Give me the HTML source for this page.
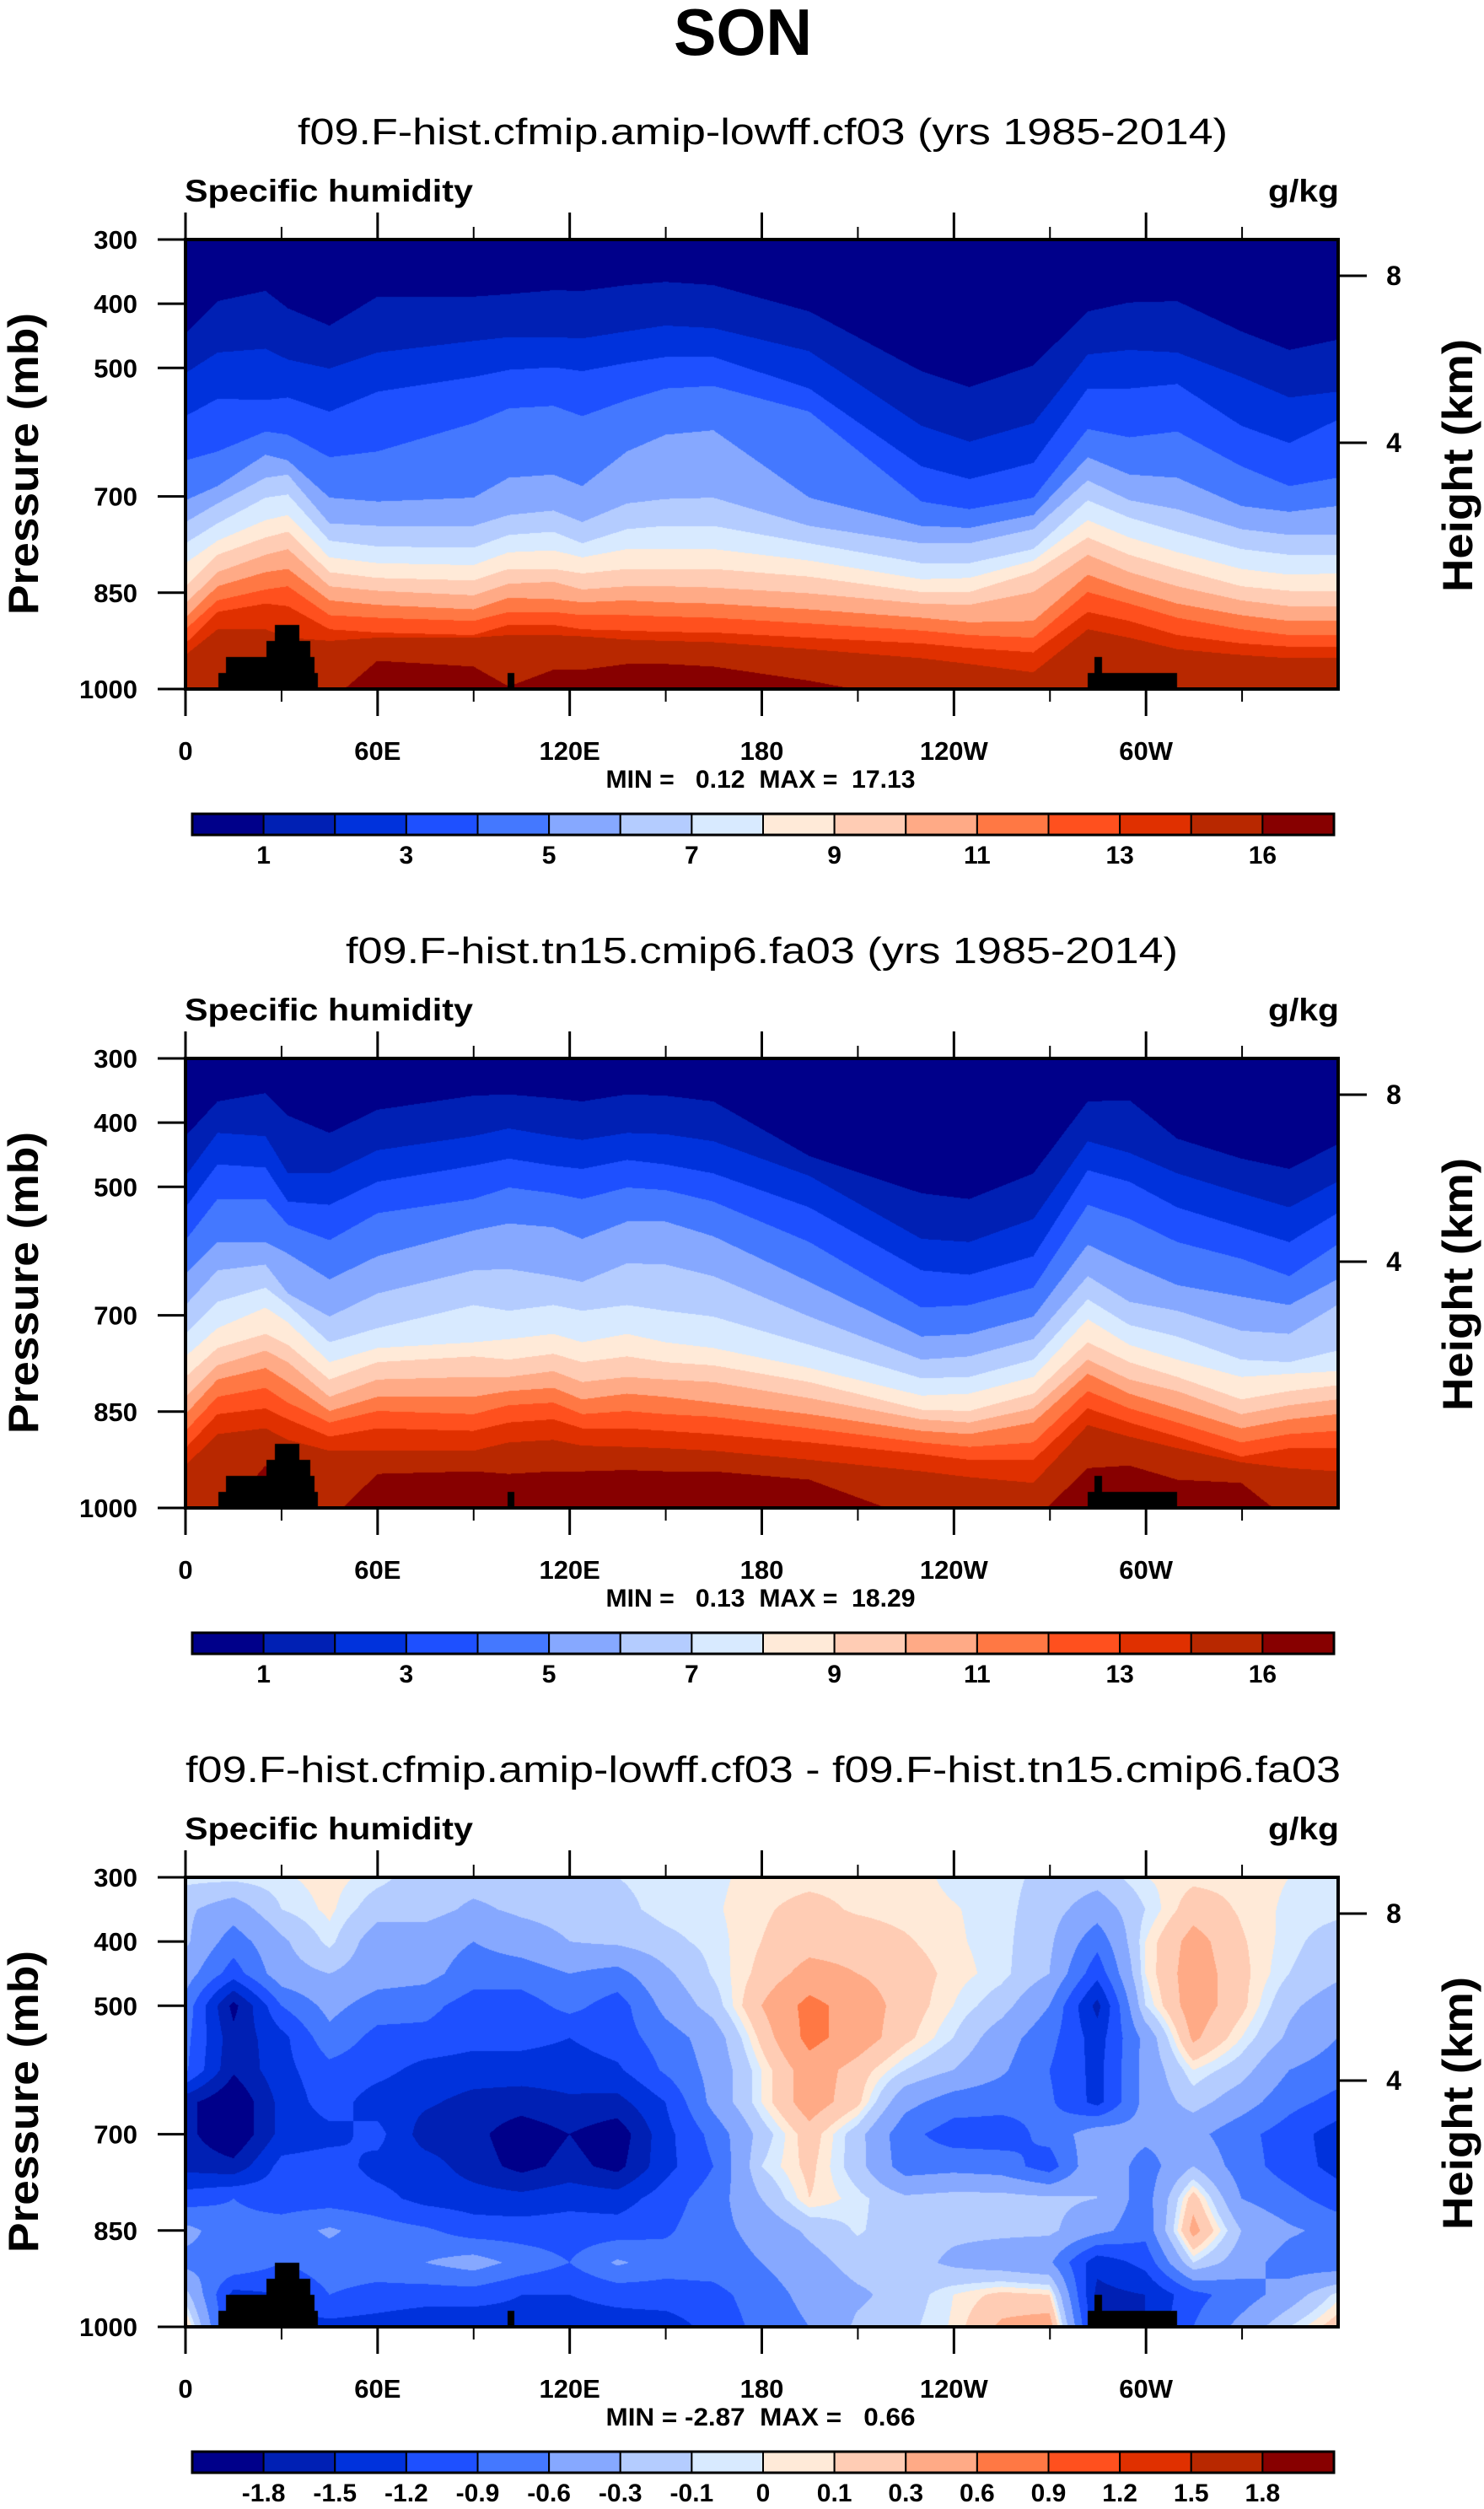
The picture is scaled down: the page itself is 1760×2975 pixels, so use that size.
<!DOCTYPE html>
<html><head><meta charset="utf-8">
<style>
html,body{margin:0;padding:0;background:#fff;}
#root{position:relative;width:1760px;height:2975px;overflow:hidden;background:#fff;}
canvas{position:absolute;}
svg{position:absolute;left:0;top:0;}
text{font-family:"Liberation Sans",Arial,sans-serif;fill:#000;}
.pre{white-space:pre;}
</style></head>
<body>
<div id="root">
<canvas id="c1" width="1366" height="533" style="left:220px;top:284px"></canvas>
<canvas id="c2" width="1366" height="533" style="left:220px;top:1255px"></canvas>
<canvas id="c3" width="1366" height="533" style="left:220px;top:2226px"></canvas>
<svg id="ov" width="1760" height="2975" xmlns="http://www.w3.org/2000/svg">
<text x="881" y="65" font-size="78" font-weight="bold" text-anchor="middle" textLength="164" lengthAdjust="spacingAndGlyphs">SON</text>
</svg>
</div>
<script>
// ---------- data ----------
const qLevels = [1,2,3,4,5,6,7,8,9,10,11,12,13,14,16];
const qLabels = ["1","3","5","7","9","11","13","16"];
const diffLevels = [-1.8,-1.5,-1.2,-0.9,-0.6,-0.3,-0.1,0,0.1,0.3,0.6,0.9,1.2,1.5,1.8];
const diffLabels = ["-1.8","-1.5","-1.2","-0.9","-0.6","-0.3","-0.1","0","0.1","0.3","0.6","0.9","1.2","1.5","1.8"];
const xTickLons = [0,60,120,180,240,300];
const xTickLabels = ["0","60E","120E","180","120W","60W"];
const pTicks = [300,400,500,700,850,1000];
const hTickLabels = ["8","4"];
const isoLons = [0,10,25,32,45,60,90,101,115,124,138,150,165,195,230,245,265,282,295,310,330,345,360];
// panel 1: pressure (mb) of each q isoline along isoLons
const iso1_cf03 = [
[447,396,380,407,434,389,389,385,379,380,371,366,371,412,505,530,496,412,398,396,443,472,456],
[508,476,470,487,501,476,458,452,452,454,443,434,438,474,590,615,586,479,472,476,514,546,537],
[575,548,550,546,568,537,514,503,499,505,492,483,483,532,653,673,648,532,532,525,590,617,581],
[644,630,599,604,639,630,586,563,559,575,550,532,528,568,708,720,702,595,608,599,653,684,671],
[706,684,635,644,702,708,702,671,666,684,630,604,597,702,746,749,729,639,666,671,715,724,715],
[740,711,671,666,742,746,746,729,722,740,711,704,702,746,773,773,751,675,706,720,751,760,760],
[773,742,702,697,769,778,780,760,755,773,751,746,746,773,804,804,782,706,733,755,782,791,791],
[804,769,737,729,795,804,807,787,784,795,782,782,782,800,829,827,800,737,764,787,813,822,820],
[840,791,764,755,818,827,831,813,813,820,813,813,813,825,849,849,818,764,791,813,840,847,847],
[867,818,791,782,840,847,854,836,833,845,840,840,842,851,867,869,849,791,818,840,862,871,871],
[889,840,818,813,862,869,876,858,860,865,862,865,867,876,889,896,894,822,845,867,885,894,894],
[907,862,845,840,885,889,894,880,880,885,885,887,889,898,909,916,920,849,867,889,907,916,916],
[929,880,867,871,907,912,916,900,900,907,909,911,912,920,929,936,943,880,894,916,929,934,934],
[947,907,907,920,925,920,920,916,916,918,923,925,927,938,952,961,974,907,920,938,947,952,952],
[1020,1020,1020,1020,1020,956,965,996,970,970,961,961,965,987,1020,1020,1020,1020,1020,1020,1020,1020,1020]
];
// panel 2
const iso2_fa03 = [
[421,367,354,389,416,380,358,356,362,367,356,358,367,452,510,519,479,367,365,425,456,472,434],
[483,416,421,479,479,443,421,409,421,427,416,418,429,483,581,586,550,429,447,479,510,532,492],
[532,465,470,523,528,492,467,456,467,472,458,465,479,532,630,637,608,474,492,532,563,586,541],
[583,519,519,559,583,541,519,501,510,519,501,505,523,586,688,684,657,528,550,586,612,639,590],
[635,586,586,604,644,608,568,557,563,581,554,554,577,648,733,729,702,590,621,653,671,684,644],
[684,630,621,666,702,666,630,628,639,648,619,621,639,702,769,764,737,639,679,693,724,729,684],
[729,679,657,684,742,720,684,693,684,693,684,693,702,746,798,796,769,675,715,733,769,773,755],
[764,720,688,711,773,751,742,737,729,742,729,742,751,782,825,822,796,706,746,769,796,791,787],
[796,751,729,746,800,773,764,769,760,773,764,773,778,804,847,849,822,742,773,796,831,818,809],
[827,778,755,773,827,800,796,796,787,804,796,800,804,829,862,867,845,769,800,818,854,840,831],
[854,800,782,804,849,827,827,818,813,831,822,827,836,854,880,885,867,791,822,845,876,862,854],
[880,827,813,836,867,849,854,840,836,854,849,854,858,876,898,905,898,818,845,867,898,885,880],
[907,854,845,862,889,876,880,867,862,876,876,880,885,898,916,925,925,845,867,889,920,907,907],
[934,885,876,894,911,911,911,898,894,903,905,907,911,925,943,952,961,871,889,907,929,938,943],
[1020,1020,934,1020,1020,947,943,947,943,943,941,943,943,956,1020,1020,1020,938,934,956,961,1020,1020]
];
// panel 3: difference grid (g/kg), rows = diffPres, cols = diffLons
const diffLons = [0,15,30,45,60,75,90,105,120,135,150,165,180,195,210,225,240,255,270,285,300,315,330,345,360];
const diffPres = [300,350,400,450,500,550,600,650,700,750,800,850,900,950,1000];
const diffVals = [
[-0.05,-0.05,-0.02,0.05,-0.05,-0.2,-0.2,-0.2,-0.15,-0.1,-0.05,-0.03,0.05,0.06,0.06,0.05,-0.03,-0.05,-0.15,-0.2,0.0,0.06,0.06,0.0,-0.05],
[-0.25,-0.45,-0.1,0.03,-0.2,-0.2,-0.35,-0.25,-0.2,-0.15,-0.05,-0.02,0.08,0.15,0.08,0.05,0.01,-0.05,-0.2,-0.45,-0.1,0.2,0.08,-0.03,-0.05],
[-0.25,-0.75,-0.35,-0.05,-0.45,-0.45,-0.6,-0.45,-0.3,-0.25,-0.15,-0.05,0.1,0.2,0.2,0.12,0.02,-0.05,-0.25,-0.8,0.0,0.4,0.12,-0.05,-0.2],
[-0.45,-1.05,-0.4,-0.3,-0.45,-0.5,-0.75,-0.75,-0.6,-0.7,-0.35,-0.08,0.15,0.4,0.3,0.2,0.05,-0.05,-0.3,-1.1,0.0,0.45,0.15,-0.1,-0.25],
[-0.7,-1.9,-0.9,-0.5,-0.75,-0.8,-1.05,-1.05,-0.8,-1.05,-0.5,-0.2,0.3,0.7,0.45,0.2,0.0,-0.2,-0.6,-1.6,-0.1,0.45,0.15,-0.25,-0.45],
[-0.8,-1.7,-1.3,-0.7,-1.0,-1.0,-1.1,-1.1,-1.2,-1.05,-0.75,-0.45,0.15,0.7,0.45,0.15,-0.1,-0.45,-0.8,-1.35,-0.5,0.35,0.0,-0.35,-0.6],
[-0.85,-1.75,-1.3,-1.0,-1.1,-1.3,-1.35,-1.35,-1.35,-1.25,-0.85,-0.5,0.0,0.45,0.2,-0.1,-0.3,-0.55,-0.9,-1.3,-0.5,0.0,-0.2,-0.6,-0.75],
[-1.7,-2.1,-1.4,-1.05,-1.35,-1.45,-1.6,-1.65,-1.55,-1.6,-1.2,-0.5,0.0,0.45,0.15,-0.5,-0.75,-0.8,-0.85,-1.3,-0.5,-0.2,-0.45,-0.8,-1.0],
[-1.7,-2.1,-1.4,-1.3,-1.1,-1.65,-1.7,-2.0,-1.8,-2.0,-1.3,-0.8,-0.2,0.2,-0.2,-0.8,-1.05,-1.05,-0.8,-0.4,-0.5,-0.5,-0.8,-1.05,-1.35],
[-1.6,-1.7,-1.1,-1.05,-1.3,-1.35,-1.65,-1.9,-1.7,-1.9,-1.3,-0.9,-0.1,0.15,-0.2,-0.75,-0.7,-0.75,-1.05,-0.3,-0.75,-0.3,-0.75,-1.05,-1.3],
[-1.05,-0.9,-1.05,-1.05,-1.1,-1.3,-1.35,-1.4,-1.3,-1.35,-1.05,-0.75,-0.3,0.1,-0.05,-0.25,-0.2,-0.2,-0.25,-0.3,-0.75,0.2,-0.6,-0.8,-1.05],
[-0.5,-0.8,-0.75,-0.55,-0.75,-0.85,-1.05,-1.05,-1.05,-1.05,-0.95,-0.7,-0.5,-0.25,-0.08,-0.2,-0.25,-0.25,-0.25,-0.5,-0.8,0.4,-0.3,-0.55,-0.7],
[-0.7,-0.65,-0.9,-0.75,-0.75,-0.6,-0.45,-0.7,-0.9,-0.55,-0.75,-0.75,-0.6,-0.4,-0.2,-0.2,-0.35,-0.45,-0.55,-1.4,-1.1,-0.1,-0.45,-0.75,-0.8],
[-0.2,-1.3,-1.2,-0.9,-1.0,-1.05,-1.05,-1.2,-1.2,-1.1,-1.05,-1.0,-0.75,-0.5,-0.35,-0.2,0.0,0.15,0.1,-1.6,-1.5,-1.0,-0.75,-0.45,-0.05],
[0.2,-1.3,-1.3,-1.3,-1.35,-1.45,-1.45,-1.35,-1.35,-1.35,-1.35,-1.1,-0.8,-0.6,-0.25,-0.15,0.02,0.35,0.45,-1.5,-1.5,-0.9,-0.5,-0.1,0.2]
];
// topography mask [lonStart, lonEnd, surface pressure mb]
const topoLon0 = [10.3,12.6,25.3,28,100.6,282,284];
const topoLon1 = [41.3,40.2,39,35.6,102.9,310,286.5];
const topoPs   = [975,950,925,900,975,975,950];
const colors = ['#00008A','#0020B4','#0032DC','#1E50FF','#4478FF','#86A8FF','#B4CCFF','#D8EAFF','#FFEAD8','#FFCCB4','#FFAA86','#FF7844','#FF501E','#E03000','#B82800','#870000'];

// ---------- drawing ----------
const W=1366,H=533,P0=300,P1=1000;
function hex(c){return [parseInt(c.substr(1,2),16),parseInt(c.substr(3,2),16),parseInt(c.substr(5,2),16)];}
const rgb=colors.map(hex);
function interp1(xs,ys,x){
  let i=0; while(i<xs.length-2 && x>xs[i+1]) i++;
  const t=(x-xs[i])/(xs[i+1]-xs[i]); return ys[i]+(ys[i+1]-ys[i])*t;
}
function isTopo(lon,p){
  for(let k=0;k<topoPs.length;k++) if(lon>=topoLon0[k]&&lon<=topoLon1[k]&&p>=topoPs[k]) return true;
  return false;
}
function put(img,x,y,c){const o=(y*W+x)*4;img.data[o]=c[0];img.data[o+1]=c[1];img.data[o+2]=c[2];img.data[o+3]=255;}
function drawIso(id,isos){
  const ctx=document.getElementById(id).getContext('2d');
  const img=ctx.createImageData(W,H);
  for(let x=0;x<W;x++){
    const lon=(x+0.5)/W*360;
    const ps=isos.map(a=>interp1(isoLons,a,lon));
    for(let y=0;y<H;y++){
      const p=P0+(y+0.5)/H*(P1-P0);
      let k=0; for(const q of ps) if(q<p) k++;
      put(img,x,y,isTopo(lon,p)?[0,0,0]:rgb[k]);
    }
  }
  ctx.putImageData(img,0,0);
}
function drawDiff(id){
  const ctx=document.getElementById(id).getContext('2d');
  const img=ctx.createImageData(W,H);
  for(let x=0;x<W;x++){
    const lon=(x+0.5)/W*360;
    let i=Math.min(Math.floor(lon/15),diffLons.length-2);
    const tx=(lon-diffLons[i])/(diffLons[i+1]-diffLons[i]);
    for(let y=0;y<H;y++){
      const p=P0+(y+0.5)/H*(P1-P0);
      let j=Math.min(Math.floor((p-300)/50),diffPres.length-2);
      const ty=(p-diffPres[j])/(diffPres[j+1]-diffPres[j]);
      const v=(diffVals[j][i]*(1-tx)+diffVals[j][i+1]*tx)*(1-ty)+(diffVals[j+1][i]*(1-tx)+diffVals[j+1][i+1]*tx)*ty;
      let k=0; for(const l of diffLevels) if(v>=l) k++;
      put(img,x,y,isTopo(lon,p)?[0,0,0]:rgb[k]);
    }
  }
  ctx.putImageData(img,0,0);
}
drawIso('c1',iso1_cf03);
drawIso('c2',iso2_fa03);
drawDiff('c3');

// ---------- axes / text ----------
const NS='http://www.w3.org/2000/svg';
const svg=document.getElementById('ov');
function mk(tag,attrs,txt){const e=document.createElementNS(NS,tag);for(const k in attrs)e.setAttribute(k,attrs[k]);if(txt!==undefined)e.textContent=txt;svg.appendChild(e);return e;}
const L=220,R=1587;
const xOf=lon=>L+lon/360*(R-L);
const panels=[
 {top:284,sub:'f09.F-hist.cfmip.amip-lowff.cf03 (yrs 1985-2014)',sx:353,sw:1103,mm:'MIN =   0.12  MAX =  17.13',labels:qLabels,step:2,n:'cf03'},
 {top:1255,sub:'f09.F-hist.tn15.cmip6.fa03 (yrs 1985-2014)',sx:410,sw:987,mm:'MIN =   0.13  MAX =  18.29',labels:qLabels,step:2,n:'fa03'},
 {top:2226,sub:'f09.F-hist.cfmip.amip-lowff.cf03 - f09.F-hist.tn15.cmip6.fa03',sx:220,sw:1370,mm:'MIN = -2.87  MAX =   0.66',labels:diffLabels,step:1,n:'diff'}
];
panels.forEach(pn=>{
  const T=pn.top,B=T+533;
  const yOf=p=>T+(p-P0)/(P1-P0)*(B-T);
  let e;
  e=mk('text',{x:pn.sx,y:T-113,'font-size':44,textLength:pn.sw,lengthAdjust:'spacingAndGlyphs'},pn.sub);
  
  
  e=mk('text',{x:219,y:T-45,'font-size':37,'font-weight':'bold',textLength:342,lengthAdjust:'spacingAndGlyphs'},'Specific humidity');
  
  
  e=mk('text',{x:R+1,y:T-45,'font-size':37,'font-weight':'bold','text-anchor':'end',textLength:84,lengthAdjust:'spacingAndGlyphs'},'g/kg');
  
  
  e=mk('rect',{x:L,y:T,width:R-L,height:B-T,fill:'none',stroke:'#000','stroke-width':4});
  
  
  for(let lon=0;lon<=330;lon+=30){
    const major=lon%60===0, len=major?32:15, x=xOf(lon);
    e=mk('line',{x1:x,y1:T,x2:x,y2:T-len,stroke:'#000','stroke-width':major?3:2});
    
    
    e=mk('line',{x1:x,y1:B,x2:x,y2:B+len,stroke:'#000','stroke-width':major?3:2});
    
    
  }
  xTickLons.forEach((lon,i)=>{
    e=mk('text',{x:xOf(lon),y:B+84,'font-size':31,'font-weight':'bold','text-anchor':'middle'},xTickLabels[i]);
    
    
  });
  pTicks.forEach(p=>{
    const y=yOf(p);
    e=mk('line',{x1:L,y1:y,x2:L-33,y2:y,stroke:'#000','stroke-width':3});
    
    
    e=mk('text',{x:163,y:y+11,'font-size':31,'font-weight':'bold','text-anchor':'end'},String(p));
    
    
  });
  [T+43,T+241].forEach((y,i)=>{
    e=mk('line',{x1:R,y1:y,x2:R+34,y2:y,stroke:'#000','stroke-width':3});
    
    
    e=mk('text',{x:1653,y:y+11,'font-size':32,'font-weight':'bold','text-anchor':'middle'},hTickLabels[i]);
    
    
  });
  e=mk('text',{x:0,y:0,'font-size':50,'font-weight':'bold','text-anchor':'middle',transform:'translate(45,'+(T+266)+') rotate(-90)',textLength:358,lengthAdjust:'spacingAndGlyphs'},'Pressure (mb)');
  
  
  e=mk('text',{x:0,y:0,'font-size':50,'font-weight':'bold','text-anchor':'middle',transform:'translate(1746,'+(T+268)+') rotate(-90)',textLength:300,lengthAdjust:'spacingAndGlyphs'},'Height (km)');
  
  
  e=mk('text',{x:902,y:B+117,'font-size':30,'font-weight':'bold','text-anchor':'middle','class':'pre',textLength:367,lengthAdjust:'spacingAndGlyphs'},pn.mm);
  
  
  // colorbar
  const cbL=228,cbR=1582,cbT=T+681,cbH=25,bw=(cbR-cbL)/16;
  colors.forEach((c,i)=>{
    e=mk('rect',{x:cbL+i*bw,y:cbT,width:bw,height:cbH,fill:c,stroke:'#000','stroke-width':2});
    
    
  });
  e=mk('rect',{x:cbL,y:cbT,width:cbR-cbL,height:cbH,fill:'none',stroke:'#000','stroke-width':3});
  
  
  pn.labels.forEach((lab,i)=>{
    const b=1+i*pn.step;
    e=mk('text',{x:cbL+b*bw,y:cbT+59,'font-size':30,'font-weight':'bold','text-anchor':'middle'},lab);
    
    
  });
});
</script>
</body></html>
